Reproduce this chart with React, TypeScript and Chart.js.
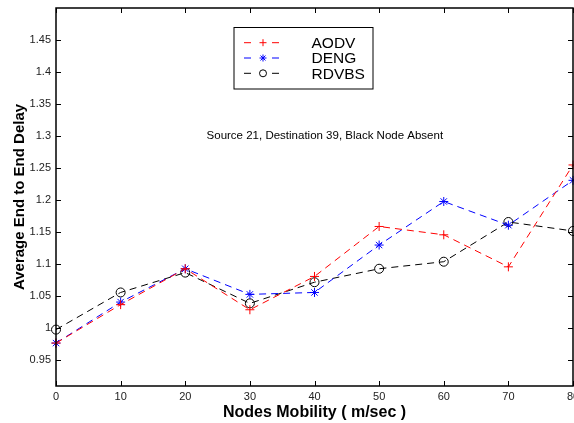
import React, { useEffect, useRef } from "react";
import { Chart, registerables } from "chart.js";

Chart.register(...registerables);

const mobility = [0, 10, 20, 30, 40, 50, 60, 70, 80];
const aodv = [0.977, 1.037, 1.093, 1.029, 1.081, 1.159, 1.146, 1.096, 1.255];
const deng = [0.977, 1.041, 1.093, 1.053, 1.056, 1.13, 1.198, 1.161, 1.231];
const rdvbs = [0.998, 1.056, 1.087, 1.039, 1.072, 1.093, 1.104, 1.166, 1.152];
const seriesNames = ["AODV", "DENG", "RDVBS"];
const seriesColors = ["#ff0000", "#0000ff", "#000000"];
const yTicks = [0.95, 1, 1.05, 1.1, 1.15, 1.2, 1.25, 1.3, 1.35, 1.4, 1.45];
const xTicks = [0, 10, 20, 30, 40, 50, 60, 70, 80];
const annotation = "Source 21, Destination 39, Black Node Absent";

const FONT = "Arial, 'Liberation Sans', Helvetica, sans-serif";

function drawMarker(ctx: CanvasRenderingContext2D, kind: string, x: number, y: number, r: number, color: string) {
  ctx.save();
  ctx.strokeStyle = color;
  ctx.lineWidth = 1;
  ctx.setLineDash([]);
  ctx.beginPath();
  if (kind === "cross") {
    ctx.moveTo(x - r, y); ctx.lineTo(x + r, y);
    ctx.moveTo(x, y - r); ctx.lineTo(x, y + r);
  } else if (kind === "star") {
    const d = r * 0.707;
    ctx.moveTo(x - r, y); ctx.lineTo(x + r, y);
    ctx.moveTo(x, y - r); ctx.lineTo(x, y + r);
    ctx.moveTo(x - d, y - d); ctx.lineTo(x + d, y + d);
    ctx.moveTo(x - d, y + d); ctx.lineTo(x + d, y - d);
  } else {
    ctx.arc(x, y, r, 0, Math.PI * 2);
  }
  ctx.stroke();
  ctx.restore();
}

const markerKinds = ["cross", "star", "circle"];

const framePlugin = {
  id: "frame",
  afterDraw(chart: any) {
    const ctx = chart.ctx as CanvasRenderingContext2D;
    const { left, right, top, bottom } = chart.chartArea;
    const xs = chart.scales.x;
    const ys = chart.scales.y;
    ctx.save();
    ctx.strokeStyle = "#000";
    ctx.lineWidth = 1.5;
    ctx.setLineDash([]);
    ctx.strokeRect(left, top, right - left, bottom - top);
    ctx.lineWidth = 1;
    ctx.beginPath();
    for (const v of xTicks) {
      const px = Math.round(xs.getPixelForValue(v)) + 0.5;
      ctx.moveTo(px, bottom); ctx.lineTo(px, bottom - 5);
      ctx.moveTo(px, top); ctx.lineTo(px, top + 5);
    }
    for (const v of yTicks) {
      const py = Math.round(ys.getPixelForValue(v)) + 0.5;
      ctx.moveTo(left, py); ctx.lineTo(left + 5, py);
      ctx.moveTo(right, py); ctx.lineTo(right - 5, py);
    }
    ctx.stroke();

    // x tick labels
    ctx.fillStyle = "#222";
    ctx.font = `11px ${FONT}`;
    ctx.textAlign = "center";
    ctx.textBaseline = "middle";
    for (const v of xTicks) {
      ctx.fillText(String(v), xs.getPixelForValue(v), bottom + 11);
    }

    // annotation text
    ctx.fillStyle = "#000";
    ctx.font = `11.5px ${FONT}`;
    ctx.textAlign = "center";
    ctx.textBaseline = "middle";
    ctx.fillText(annotation, xs.getPixelForValue(41.6), ys.getPixelForValue(1.301));

    // legend
    const bx = 234, by = 27.5, bw = 139, bh = 61.5;
    ctx.fillStyle = "#fff";
    ctx.fillRect(bx, by, bw, bh);
    ctx.strokeStyle = "#000";
    ctx.lineWidth = 1;
    ctx.strokeRect(bx, by, bw, bh);
    ctx.font = `15.5px ${FONT}`;
    ctx.textAlign = "left";
    seriesNames.forEach((name, i) => {
      const yy = 42.7 + i * 15.3;
      ctx.strokeStyle = seriesColors[i];
      ctx.beginPath();
      ctx.moveTo(244, yy); ctx.lineTo(251, yy);
      ctx.moveTo(272, yy); ctx.lineTo(279, yy);
      ctx.stroke();
      drawMarker(ctx, markerKinds[i], 263, yy, 3.5, seriesColors[i]);
      ctx.fillStyle = "#000";
      ctx.fillText(name, 311.5, yy + 1);
    });
    ctx.restore();
  },
};

export default function App() {
  const ref = useRef<HTMLCanvasElement | null>(null);
  useEffect(() => {
    if (!ref.current) return;
    const mk = (vals: number[], i: number) => ({
      label: seriesNames[i],
      data: mobility.map((x, k) => ({ x, y: vals[k] })),
      borderColor: seriesColors[i],
      backgroundColor: "rgba(0,0,0,0)",
      borderWidth: 1,
      borderDash: [7, 5],
      pointStyle: markerKinds[i] === "cross" ? "cross" : markerKinds[i] === "star" ? "star" : "circle",
      pointRadius: 4.5,
      pointBorderWidth: 1,
      pointBorderColor: seriesColors[i],
      pointBackgroundColor: "rgba(0,0,0,0)",
      tension: 0,
      clip: false as any,
    });
    const chart = new Chart(ref.current, {
      type: "line",
      data: {
        datasets: [mk(aodv, 0), mk(deng, 1), mk(rdvbs, 2)],
      },
      options: {
        animation: false,
        responsive: false,
        maintainAspectRatio: false,
        layout: { autoPadding: false, padding: { left: 0, right: 1, top: 8, bottom: 0 } },
        plugins: { legend: { display: false }, tooltip: { enabled: false } },
        scales: {
          x: {
            type: "linear",
            min: 0,
            max: 80,
            afterBuildTicks: (s: any) => { s.ticks = xTicks.map((v) => ({ value: v })); },
            afterFit: (s: any) => { s.height = 37; s.paddingLeft = 0; s.paddingRight = 0; },
            grid: { display: false, drawTicks: false },
            border: { display: false },
            ticks: { display: false },
            title: {
              display: true,
              text: "Nodes Mobility ( m/sec )",
              color: "#000",
              font: { family: FONT, size: 16, weight: "bold" },
              padding: { top: 0, bottom: 1 },
            },
          },
          y: {
            type: "linear",
            min: 0.91,
            max: 1.5,
            afterBuildTicks: (s: any) => { s.ticks = yTicks.map((v) => ({ value: v })); },
            afterFit: (s: any) => { s.width = 56; s.paddingTop = 0; s.paddingBottom = 0; },
            grid: { display: false, drawTicks: false },
            border: { display: false },
            ticks: {
              padding: 5,
              color: "#222",
              font: { family: FONT, size: 11 },
              autoSkip: false,
              callback: (v: any) => String(Math.round(Number(v) * 100) / 100),
            },
            title: {
              display: true,
              text: "Average End to End Delay",
              color: "#000",
              font: { family: FONT, size: 15, weight: "bold" },
              padding: { top: 11, bottom: 0 },
            },
          },
        },
      },
      plugins: [framePlugin],
    });
    return () => chart.destroy();
  }, []);
  return (
    <div style={{ position: "fixed", left: 0, top: 0, width: 574, height: 423, background: "#fff" }}>
      <canvas ref={ref} width={574} height={423} style={{ width: 574, height: 423, display: "block" }} />
    </div>
  );
}
